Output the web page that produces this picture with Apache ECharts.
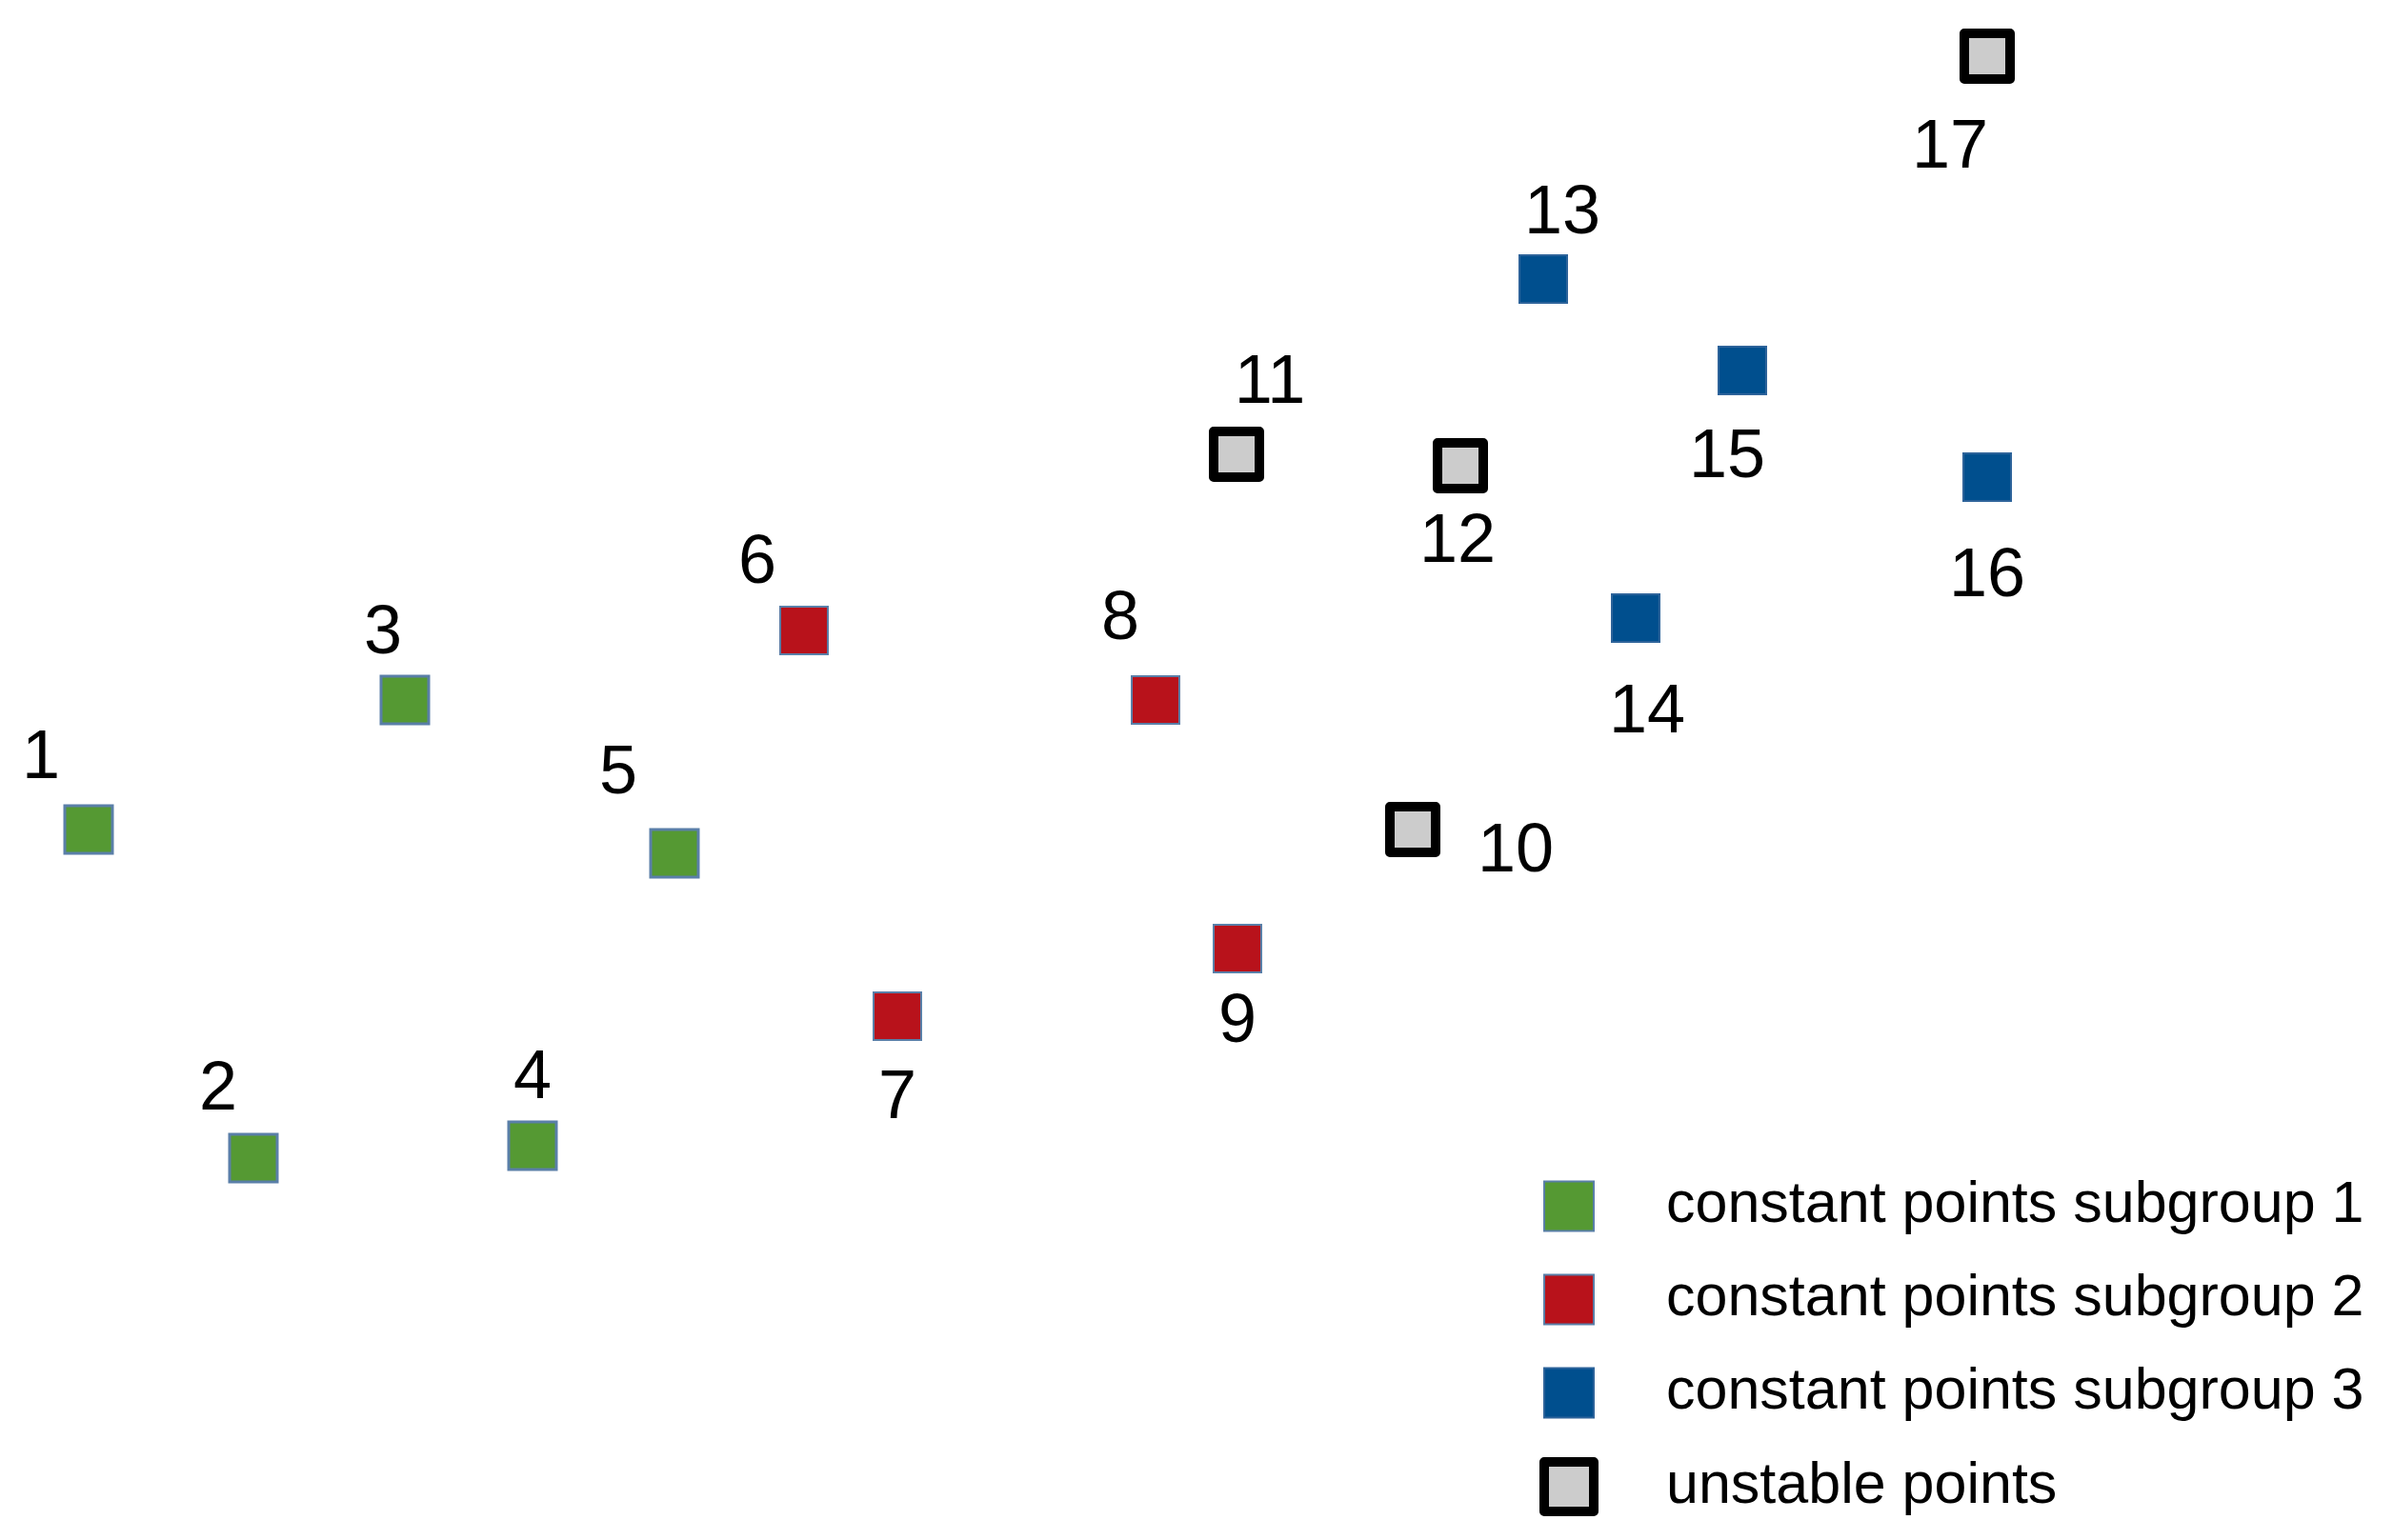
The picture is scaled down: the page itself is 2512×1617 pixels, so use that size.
<!DOCTYPE html>
<html>
<head>
<meta charset="utf-8">
<title>constant and unstable points</title>
<script src="https://cdn.jsdelivr.net/npm/echarts@6/dist/echarts.min.js"></script>
<style>
  html, body { margin: 0; padding: 0; background: #fff; }
  #chart { width: 2512px; height: 1617px; }
</style>
</head>
<body>
<div id="chart"></div>
<script>
// point ids and positions (x to the right, y upwards, plane units)
const group1Ids = ['1', '2', '3', '4', '5']
const group1X = [93, 266, 425, 559, 708]
const group1Y = [746, 401, 882, 414, 721]

const group2Ids = ['6', '7', '8', '9']
const group2X = [844, 942, 1213, 1299]
const group2Y = [955, 550, 882, 621]

const group3Ids = ['13', '14', '15', '16']
const group3X = [1620, 1717, 1829, 2086]
const group3Y = [1324, 968, 1228, 1116]

const unstableIds = ['10', '11', '12', '17']
const unstableX = [1483, 1298, 1533, 2086]
const unstableY = [746, 1140, 1128, 1558]

const seriesNames = ['constant points subgroup 1', 'constant points subgroup 2', 'constant points subgroup 3', 'unstable points']

// where each number sits relative to its square (px)
const labelOffsets = {
  '1': [-50, -74], '2': [-37, -71], '3': [-23, -69], '4': [0, -70], '5': [-59, -83],
  '6': [-49, -70], '7': [0, 87], '8': [-37, -84], '9': [0, 78],
  '10': [108, 24], '11': [35, -74], '12': [-3, 81], '13': [20, -68],
  '14': [12, 100], '15': [-16, 92], '16': [0, 105], '17': [-39, 97]
}

function buildData(ids, xs, ys) {
  let data = []
  for (let i = 0; i < ids.length; i++) {
    data.push({
      name: ids[i],
      value: [xs[i], ys[i]],
      label: { offset: labelOffsets[ids[i]] }
    })
  }
  return data
}

const labelStyle = {
  show: true,
  position: 'inside',
  formatter: '{b}',
  color: '#000',
  fontFamily: 'Liberation Sans',
  fontSize: 72,
  verticalAlign: 'middle',
  align: 'center'
}

function makeSeries(name, data, size, itemStyle) {
  itemStyle.opacity = 1
  return {
    name: name,
    type: 'scatter',
    symbol: 'rect',
    symbolSize: size,
    data: data,
    itemStyle: itemStyle,
    label: labelStyle,
    emphasis: { disabled: true }
  }
}

let myChart = echarts.init(document.getElementById('chart'))
let option = {
  animation: false,
  backgroundColor: '#fff',
  grid: { left: 0, right: 0, top: 0, bottom: 0 },
  xAxis: { type: 'value', min: 0, max: 2512, show: false },
  yAxis: { type: 'value', min: 0, max: 1617, show: false },
  legend: {
    orient: 'vertical',
    left: 1611,
    top: 1231,
    itemWidth: 52,
    itemHeight: 52,
    itemGap: 37,
    selectedMode: false,
    data: [
      seriesNames[0],
      seriesNames[1],
      seriesNames[2],
      {
        name: seriesNames[3],
        itemStyle: { borderColor: '#000', borderWidth: 10, borderJoin: 'round' }
      }
    ],
    textStyle: {
      color: '#000',
      fontFamily: 'Liberation Sans',
      fontSize: 61,
      padding: [0, 0, 0, 71]
    }
  },
  series: [
    makeSeries(seriesNames[0], buildData(group1Ids, group1X, group1Y), 50,
      { color: '#559933', borderColor: '#5a7fa8', borderWidth: 3 }),
    makeSeries(seriesNames[1], buildData(group2Ids, group2X, group2Y), 50,
      { color: '#b8121b', borderColor: '#5a7fa8', borderWidth: 2 }),
    makeSeries(seriesNames[2], buildData(group3Ids, group3X, group3Y), 50,
      { color: '#004f8e', borderColor: '#2d639a', borderWidth: 2 }),
    makeSeries(seriesNames[3], buildData(unstableIds, unstableX, unstableY), 48,
      { color: '#cccccc', borderColor: '#000', borderWidth: 10, borderJoin: 'round' })
  ]
}
myChart.setOption(option)
</script>
</body>
</html>
